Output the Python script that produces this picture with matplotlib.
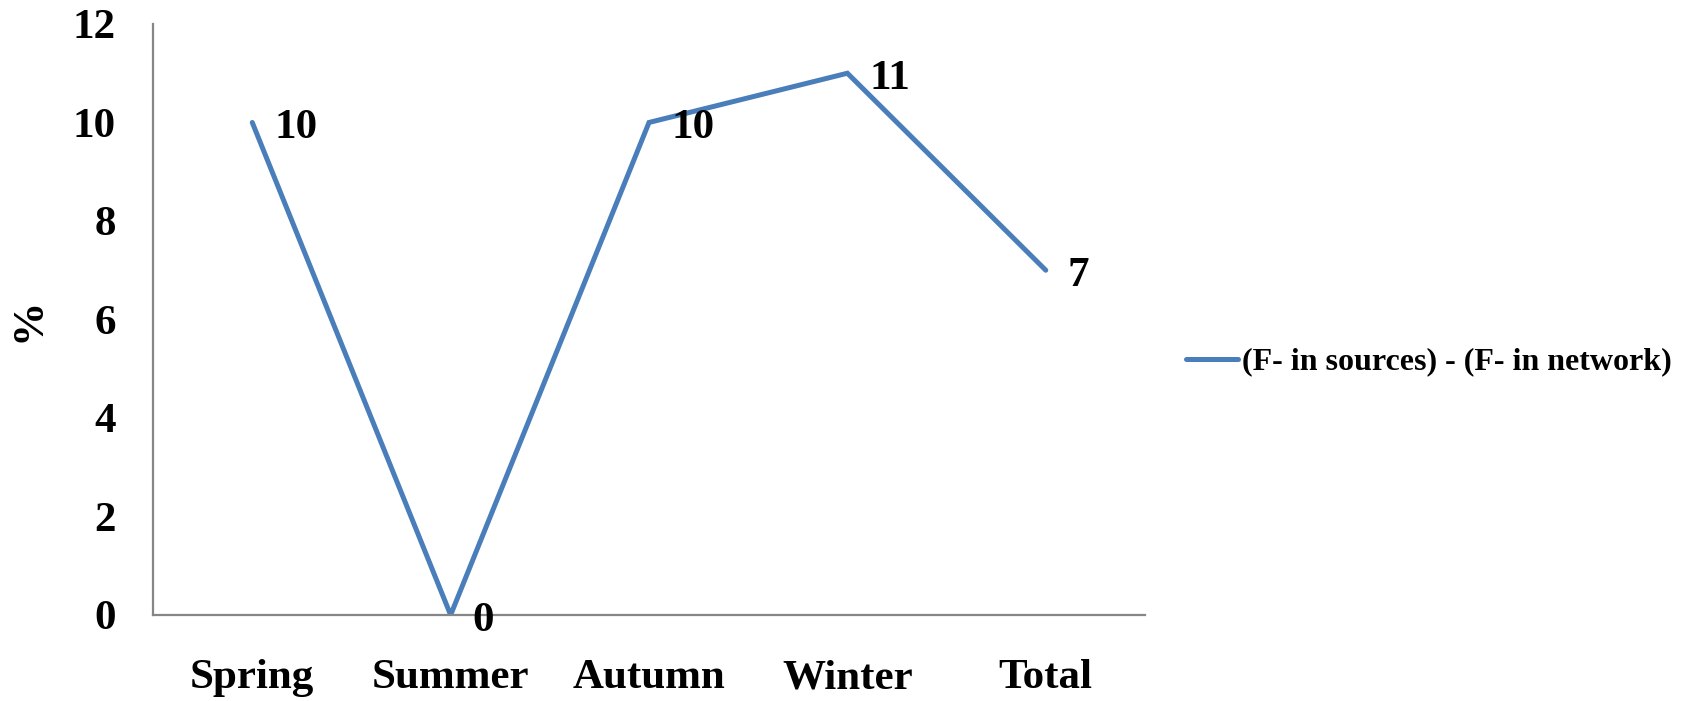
import matplotlib.pyplot as plt

# data
seasons = ['Spring', 'Summer', 'Autumn', 'Winter', 'Total']
diff_vals = [10, 0, 10, 11, 7]
y_ticks = [0, 2, 4, 6, 8, 10, 12]
series_name = '(F- in sources) - (F- in network)'

plt.rcParams['font.family'] = ['Liberation Serif', 'DejaVu Serif']
plt.rcParams['font.weight'] = 'bold'

fig = plt.figure(figsize=(16.84, 7.01), dpi=100)
ax = fig.add_axes([0.0909, 0.1227, 0.589, 0.8431])

x = list(range(len(seasons)))
line, = ax.plot(x, diff_vals, color='#4A7EBB', lw=3.6, solid_capstyle='round',
                solid_joinstyle='miter')

# data labels to the right of each point
for xi, v in zip(x, diff_vals):
    ax.annotate(str(v), (xi, v), xytext=(16, -4), textcoords='offset points',
                ha='left', va='center', fontsize=31, fontweight='bold')

ax.set_xlim(-0.5, len(seasons) - 0.5)
ax.set_ylim(0, 12)
ax.set_yticks(y_ticks)
ax.set_xticks(x)
ax.set_xticklabels(seasons)
ax.tick_params(axis='both', length=0, labelsize=31)
ax.tick_params(axis='x', pad=32)
ax.tick_params(axis='y', pad=27)
for lab in ax.get_xticklabels() + ax.get_yticklabels():
    lab.set_fontweight('bold')

for s in ['top', 'right']:
    ax.spines[s].set_visible(False)
for s in ['left', 'bottom']:
    ax.spines[s].set_color('#868686')
    ax.spines[s].set_linewidth(1.6)

ax.set_ylabel('%', fontsize=32, fontweight='bold')
ax.yaxis.set_label_coords(-0.105, 0.5)

fig.legend([line], [series_name], loc='center left',
           bbox_to_anchor=(1157 / 1684, 1 - 362 / 701), frameon=False,
           handlelength=1.65, handletextpad=0.12,
           prop={'weight': 'bold', 'size': 23})

fig.savefig('out.png', dpi=100)
